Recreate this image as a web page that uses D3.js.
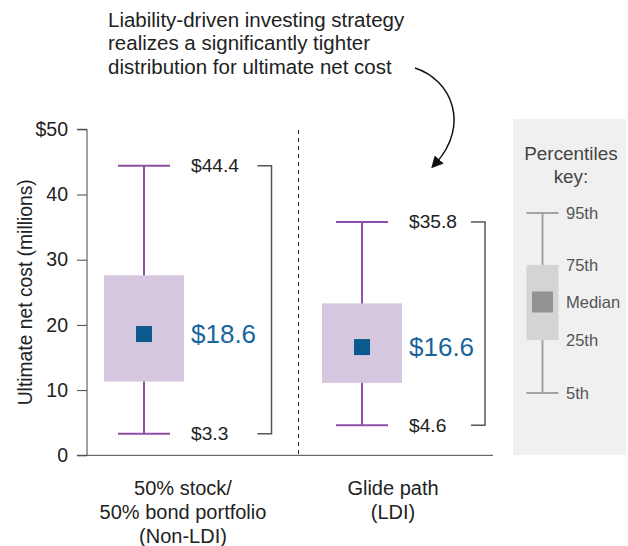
<!DOCTYPE html>
<html>
<head>
<meta charset="utf-8">
<script src="https://cdn.jsdelivr.net/npm/d3@7"></script>
<style>
  body { margin: 0; background: #fff; }
  text { font-family: "Liberation Sans", Arial, sans-serif; fill: #222; }
</style>
</head>
<body>
<svg id="chart"></svg>
<script>
// data
const categories = ['50% stock/\n50% bond portfolio\n(Non-LDI)', 'Glide path\n(LDI)'];
const p5     = [3.3, 4.6];
const p25    = [11.3, 11.1];
const median = [18.6, 16.6];
const p75    = [27.6, 23.3];
const p95    = [44.4, 35.8];
const yTicks = [0, 10, 20, 30, 40, 50];
const keyLabels = ['95th', '75th', 'Median', '25th', '5th'];
const note = ['Liability-driven investing strategy', 'realizes a significantly tighter', 'distribution for ultimate net cost'];

const w = 628, h = 546;
const svg = d3.select('#chart').attr('width', w).attr('height', h);

const purple = '#8e4fa9', boxFill = '#d5c7e0', blue = '#0a5a8e';

let y = d3.scaleLinear().domain([0, 50]).range([455.3, 129.3]);
let x = d3.scalePoint().domain(categories).range([144, 362]);

// y axis
let yAxis = d3.axisLeft(y)
  .tickValues(yTicks)
  .tickSize(10)
  .tickPadding(9)
  .tickFormat(d => d === 50 ? '$50' : d);

svg.append('g')
  .attr('transform', 'translate(87,0)')
  .call(yAxis)
  .call(g => g.select('.domain').attr('d', `M-10,${y(50)}H0V${y(0)}`).attr('stroke', '#444'))
  .call(g => g.selectAll('.tick line').attr('stroke', '#444'))
  .call(g => g.selectAll('.tick text').attr('font-size', 19.5).attr('fill', '#222')
    .attr('font-family', '"Liberation Sans", Arial, sans-serif'));

// x axis baseline
svg.append('line')
  .attr('x1', 77).attr('x2', 493)
  .attr('y1', y(0)).attr('y2', y(0))
  .attr('stroke', '#444');

svg.append('text')
  .attr('transform', `translate(27,${(y(0) + y(50)) / 2}) rotate(-90)`)
  .attr('text-anchor', 'middle')
  .attr('dominant-baseline', 'middle')
  .attr('font-size', 19.3)
  .text('Ultimate net cost (millions)');

// divider
svg.append('line')
  .attr('x1', 298.5).attr('x2', 298.5)
  .attr('y1', 130).attr('y2', y(0))
  .attr('stroke', '#222')
  .attr('stroke-dasharray', '4,4');

const boxW = 80, capW = 52, medW = 16;

categories.forEach(function(c, i) {
  let cx = x(c);
  let g = svg.append('g');

  g.append('line')
    .attr('x1', cx).attr('x2', cx)
    .attr('y1', y(p95[i])).attr('y2', y(p5[i]))
    .attr('stroke', purple).attr('stroke-width', 2);

  [p95[i], p5[i]].forEach(v => {
    g.append('line')
      .attr('x1', cx - capW / 2).attr('x2', cx + capW / 2)
      .attr('y1', y(v)).attr('y2', y(v))
      .attr('stroke', purple).attr('stroke-width', 2);
  });

  g.append('rect')
    .attr('x', cx - boxW / 2).attr('width', boxW)
    .attr('y', y(p75[i])).attr('height', y(p25[i]) - y(p75[i]))
    .attr('fill', boxFill);

  g.append('rect')
    .attr('x', cx - medW / 2).attr('width', medW)
    .attr('y', y(median[i]) - medW / 2).attr('height', medW)
    .attr('fill', blue);

  // value labels
  let lx = cx + 47;
  g.append('text').attr('x', lx).attr('y', y(p95[i]))
    .attr('dominant-baseline', 'central').attr('font-size', 19.2)
    .text('$' + p95[i].toFixed(1));
  g.append('text').attr('x', lx).attr('y', y(p5[i]))
    .attr('dominant-baseline', 'central').attr('font-size', 19.2)
    .text('$' + p5[i].toFixed(1));
  g.append('text').attr('x', lx).attr('y', y(median[i]))
    .attr('dominant-baseline', 'central').attr('font-size', 26)
    .style('fill', '#17659c')
    .text('$' + median[i].toFixed(1));

  // bracket
  let bx = cx + 127.5 - i * 4.5;
  g.append('path')
    .attr('d', `M${bx - 14},${y(p95[i])}H${bx}V${y(p5[i])}H${bx - 14}`)
    .attr('fill', 'none').attr('stroke', '#555').attr('stroke-width', 1.5);

  // category label
  let lxC = cx + 39 - i * 8;
  let t = g.append('text')
    .attr('x', lxC)
    .attr('y', 495)
    .attr('text-anchor', 'middle')
    .attr('font-size', 20);
  c.split('\n').forEach((line, k) => {
    t.append('tspan').attr('x', lxC).attr('dy', k ? 24 : 0).text(line);
  });
});

// annotation
let nt = svg.append('text').attr('x', 108).attr('y', 27).attr('font-size', 20.5);
note.forEach((line, k) => {
  nt.append('tspan').attr('x', 108).attr('dy', k ? 23.3 : 0).text(line);
});

svg.append('defs').append('marker')
  .attr('id', 'arrow')
  .attr('viewBox', '0 0 10 10')
  .attr('refX', 4).attr('refY', 5)
  .attr('markerWidth', 8).attr('markerHeight', 8)
  .attr('orient', 'auto-start-reverse')
  .append('path').attr('d', 'M0,0L10,5L0,10z').attr('fill', '#111');

svg.append('path')
  .attr('d', 'M415,68C452,80 470,125 436,163')
  .attr('fill', 'none').attr('stroke', '#111').attr('stroke-width', 1.5)
  .attr('marker-end', 'url(#arrow)');

// percentiles key
let key = svg.append('g');
key.append('rect')
  .attr('x', 513).attr('y', 119).attr('width', 113).attr('height', 336)
  .attr('fill', '#f0f0f0');

key.append('text').attr('x', 571).attr('y', 153)
  .attr('text-anchor', 'middle').attr('dominant-baseline', 'central')
  .attr('font-size', 18.9).style('fill', '#444').text('Percentiles');
key.append('text').attr('x', 571).attr('y', 176)
  .attr('text-anchor', 'middle').attr('dominant-baseline', 'central')
  .attr('font-size', 18.9).style('fill', '#444').text('key:');

let ky = d3.scaleOrdinal().domain(keyLabels).range([213, 265, 302, 340, 393]);
let kx = 542.5;

key.append('line')
  .attr('x1', kx).attr('x2', kx)
  .attr('y1', ky('95th')).attr('y2', ky('5th'))
  .attr('stroke', '#a3a3a3').attr('stroke-width', 2);
['95th', '5th'].forEach(k => {
  key.append('line')
    .attr('x1', kx - 16).attr('x2', kx + 16)
    .attr('y1', ky(k)).attr('y2', ky(k))
    .attr('stroke', '#a3a3a3').attr('stroke-width', 2);
});
key.append('rect')
  .attr('x', kx - 16).attr('width', 32)
  .attr('y', ky('75th')).attr('height', ky('25th') - ky('75th'))
  .attr('fill', '#d4d4d6');
key.append('rect')
  .attr('x', kx - 10.5).attr('width', 21)
  .attr('y', ky('Median') - 10.5).attr('height', 21)
  .attr('fill', '#939393');

keyLabels.forEach(k => {
  key.append('text')
    .attr('x', 566).attr('y', ky(k))
    .attr('dominant-baseline', 'central')
    .attr('font-size', 16.5).style('fill', '#555')
    .text(k);
});
</script>
</body>
</html>
